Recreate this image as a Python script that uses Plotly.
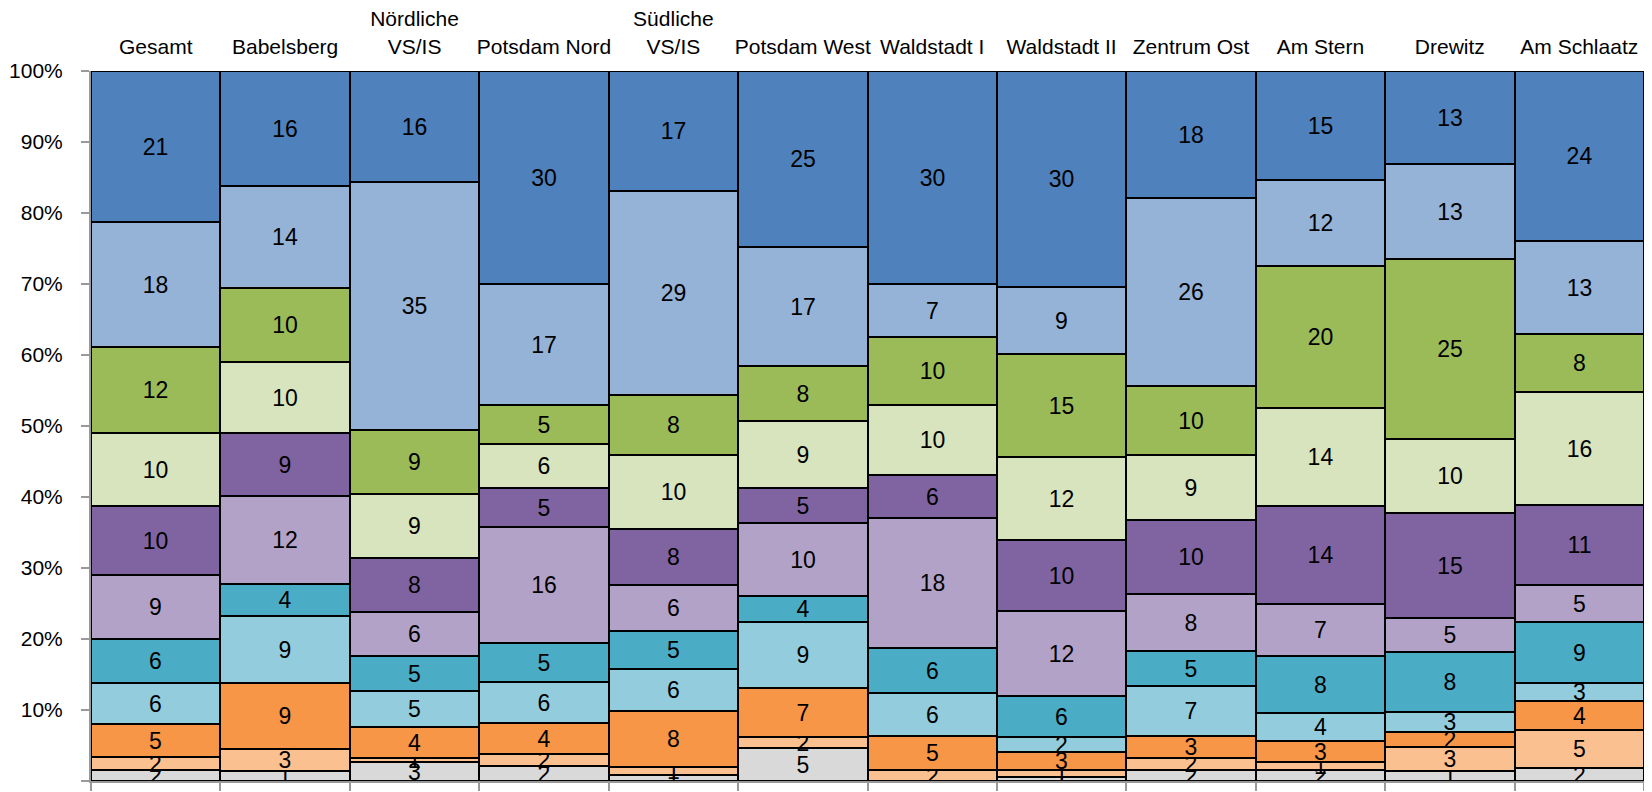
import plotly.graph_objects as go

categories = ["Gesamt", "Babelsberg", "Nördliche<br>VS/IS", "Potsdam Nord", "Südliche<br>VS/IS",
              "Potsdam West", "Waldstadt I", "Waldstadt II", "Zentrum Ost", "Am Stern",
              "Drewitz", "Am Schlaatz"]

# segment shares in percent, bottom to top
s01 = [1.6, 1.4, 2.7, 2.1, 0.9, 4.6, 0.0, 0.6, 1.6, 1.6, 1.4, 1.9]
s02 = [1.8, 3.1, 0.6, 1.7, 1.0, 1.6, 1.6, 0.9, 1.6, 1.1, 3.4, 5.3]
s03 = [4.6, 9.3, 4.3, 4.3, 8.0, 6.9, 4.8, 2.6, 3.2, 2.9, 2.1, 4.0]
s04 = [5.8, 9.4, 5.1, 5.9, 5.8, 9.3, 6.0, 2.1, 7.0, 4.0, 2.8, 2.6]
s05 = [6.2, 4.4, 4.9, 5.4, 5.4, 3.6, 6.4, 5.8, 4.9, 8.0, 8.4, 8.6]
s06 = [9.0, 12.4, 6.2, 16.4, 6.4, 10.4, 18.3, 11.9, 8.0, 7.4, 4.9, 5.2]
s07 = [9.8, 8.9, 7.7, 5.4, 7.9, 4.9, 6.0, 10.1, 10.4, 13.8, 14.7, 11.3]
s08 = [10.2, 9.9, 8.9, 6.3, 10.4, 9.4, 9.8, 11.6, 9.2, 13.7, 10.4, 15.9]
s09 = [12.1, 10.4, 9.1, 5.4, 8.4, 7.8, 9.7, 14.6, 9.8, 20.0, 25.4, 8.1]
s10 = [17.7, 14.4, 35.0, 17.1, 28.7, 16.7, 7.4, 9.4, 26.4, 12.1, 13.4, 13.2]
s11 = [21.2, 16.1, 15.6, 30.0, 16.9, 24.8, 30.0, 30.4, 17.9, 15.4, 13.1, 23.9]

series = [s01, s02, s03, s04, s05, s06, s07, s08, s09, s10, s11]
colors = ["#D9D9D9", "#FAC090", "#F79646", "#93CDDD", "#4BACC6", "#B3A2C7",
          "#8064A2", "#D7E4BD", "#9BBB59", "#95B3D7", "#4F81BD"]

FONT = "Liberation Sans, Arial, sans-serif"

fig = go.Figure()
for i, (vals, col) in enumerate(zip(series, colors)):
    fig.add_trace(go.Bar(
        x=categories, y=vals, name=f"Gruppe {i + 1}",
        marker=dict(color=col, line=dict(color="black", width=2)),
        text=[str(round(v)) if v > 0 else "" for v in vals],
        textposition="inside", insidetextanchor="middle", textangle=0,
        textfont=dict(color="black", size=23, family=FONT),
        showlegend=False, xaxis="x2",
    ))

# page body has an 8px default margin; figure sized so the plot lands where the reference has it
fig.update_layout(
    barmode="stack", barnorm="percent", bargap=0,
    width=1644, height=784,
    margin=dict(l=83, r=8, t=63, b=11),
    paper_bgcolor="white", plot_bgcolor="white",
    font=dict(family=FONT, size=20, color="black"),
    uniformtext=dict(minsize=23, mode="show"),
    xaxis=dict(type="category", categoryarray=categories, side="top", anchor="y",
               range=[-0.5, 11.5], showline=False, ticks="", showgrid=False,
               automargin=False, ticklabelstandoff=12,
               tickfont=dict(size=21, family=FONT)),
    xaxis2=dict(type="category", categoryarray=categories, overlaying="x", side="bottom",
                anchor="y", range=[-0.5, 11.5], showticklabels=False, ticks="outside",
                tickson="boundaries", ticklen=8, tickwidth=2, tickcolor="#999999",
                automargin=False,
                showline=True, linecolor="#999999", linewidth=2, showgrid=False),
    yaxis=dict(range=[0, 100], dtick=10, ticksuffix="%", ticks="outside", ticklen=8,
               tickwidth=2, tickcolor="#999999", showline=True, linecolor="#999999",
               linewidth=2, showgrid=False, zeroline=False, ticklabelstandoff=14,
               automargin=False, tickfont=dict(size=21, family=FONT)),
)
fig.add_trace(go.Scatter(x=categories, y=[None] * len(categories), xaxis="x",
                         showlegend=False, hoverinfo="skip"))

fig.write_html("out.html")
